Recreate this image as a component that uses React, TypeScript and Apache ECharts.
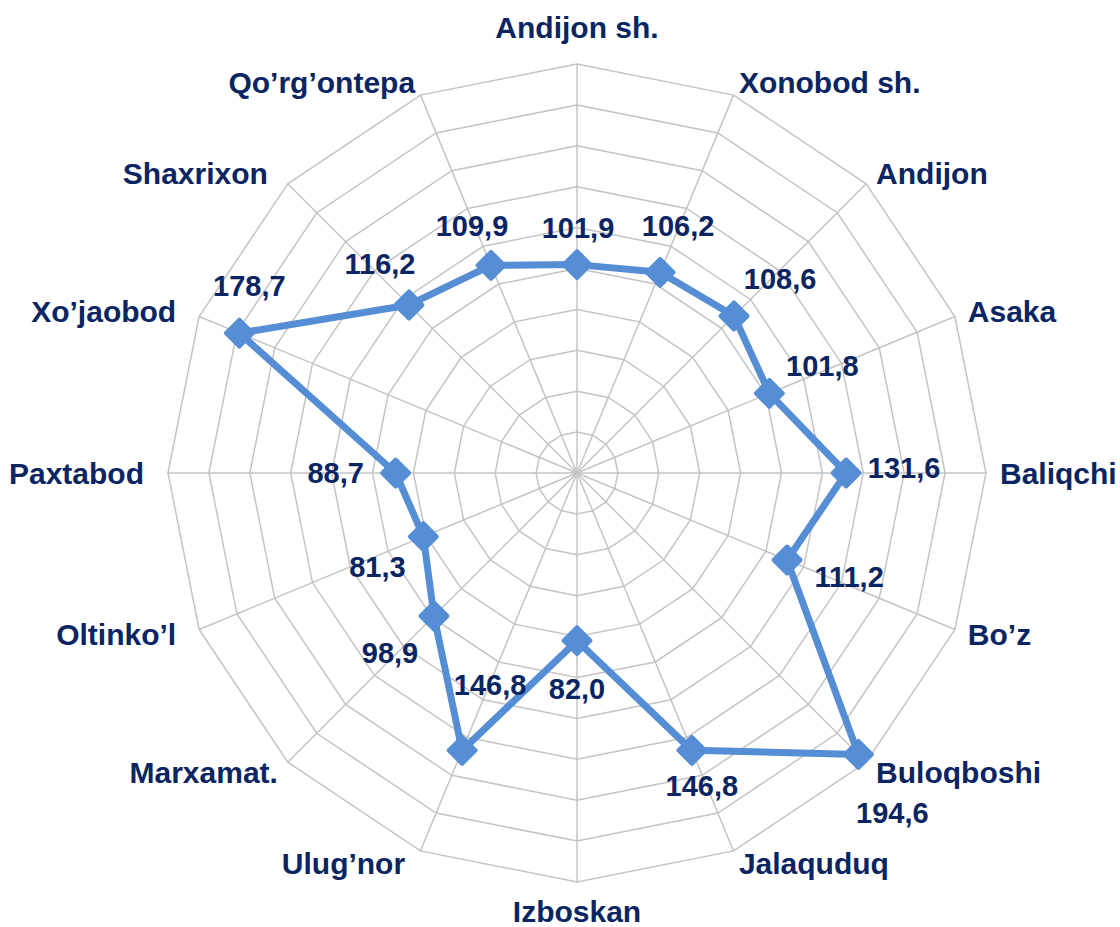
import React, { useEffect, useRef } from "react";
import * as echarts from "echarts";

const categories = [
  "Andijon sh.",
  "Xonobod sh.",
  "Andijon",
  "Asaka",
  "Baliqchi",
  "Bo’z",
  "Buloqboshi",
  "Jalaquduq",
  "Izboskan",
  "Ulug’nor",
  "Marxamat.",
  "Oltinko’l",
  "Paxtabod",
  "Xo’jaobod",
  "Shaxrixon",
  "Qo’rg’ontepa",
];

const values = [101.9, 106.2, 108.6, 101.8, 131.6, 111.2, 194.6, 146.8, 82.0, 146.8, 98.9, 81.3, 88.7, 178.7, 116.2, 109.9];

// label offsets (dx, dy) relative to each point
const labelOffsets: [number, number][] = [
  [1, -37],
  [18, -46],
  [46, -37],
  [53, -27],
  [58, -5],
  [62, 17],
  [34, 59],
  [10, 36],
  [0, 48],
  [28, -65],
  [-44, 37],
  [-46, 30],
  [-60, 0],
  [10, -47],
  [-29, -41],
  [-19, -39],
];

// name placement style per category: t = top, l = pushed further left, n = default
const nameStyles = ["t", "n", "n", "n", "n", "n", "n", "n", "n", "l", "n", "l", "l", "l", "l", "n"];

const MAX = 200;
const TEXT = "#0A2562";
const LINE = "#558ED5";
const GRID = "#C4C4C4";
const FONT = "'Liberation Sans', Arial, sans-serif";

export default function App() {
  const ref = useRef<HTMLDivElement>(null);
  useEffect(() => {
    if (!ref.current) return;
    const chart = echarts.init(ref.current, null, { renderer: "svg" });
    const n = categories.length;
    const step = 360 / n;
    // ECharts radar runs counter-clockwise; reverse so names run clockwise
    const radarOrder = [categories[0], ...categories.slice(1).reverse()];
    const center = [577, 473];
    const radius = 409;

    const lineData: any[] = values.map((v, i) => ({
      value: [v, i * step],
      label: { offset: labelOffsets[i] },
    }));
    lineData.push({ value: [values[0], 360], symbol: "none", symbolSize: 0, label: { show: false } });

    const base = { color: TEXT, fontSize: 30, fontWeight: "bold", fontFamily: FONT };

    chart.setOption({
      animation: false,
      backgroundColor: "#ffffff",
      radar: {
        center,
        radius,
        startAngle: 90,
        shape: "polygon",
        splitNumber: 10,
        nameGap: 14,
        indicator: radarOrder.map((name) => ({ name, min: 0, max: MAX })),
        axisName: {
          ...base,
          formatter: (name: string) => `{${nameStyles[categories.indexOf(name)]}|${name}}`,
          rich: {
            t: { ...base, padding: [0, 0, 8, 0] },
            l: { ...base, padding: [0, 10, 0, 0] },
            n: { ...base },
          },
        },
        splitLine: { lineStyle: { color: GRID, width: 1.5 } },
        splitArea: { show: false },
        axisLine: { lineStyle: { color: GRID, width: 1.5 } },
        axisTick: { show: false },
        axisLabel: { show: false },
      },
      polar: { center, radius },
      angleAxis: {
        type: "value",
        min: 0,
        max: 360,
        startAngle: 90,
        clockwise: true,
        show: false,
      },
      radiusAxis: { type: "value", min: 0, max: MAX, show: false },
      series: [
        {
          type: "line",
          coordinateSystem: "polar",
          data: lineData,
          symbol: "diamond",
          symbolSize: 27,
          lineStyle: { color: LINE, width: 7 },
          itemStyle: { color: LINE, borderColor: LINE, borderWidth: 4, borderJoin: "round" },
          label: {
            show: true,
            position: "inside",
            color: TEXT,
            fontSize: 29,
            fontWeight: "bold",
            fontFamily: FONT,
            formatter: (p: any) => Number(p.value[0]).toFixed(1).replace(".", ","),
          },
          z: 5,
        },
      ],
    });
    return () => chart.dispose();
  }, []);
  return (
    <div
      ref={ref}
      style={{ position: "fixed", left: 0, top: 0, width: 1120, height: 927, background: "#fff" }}
    />
  );
}
